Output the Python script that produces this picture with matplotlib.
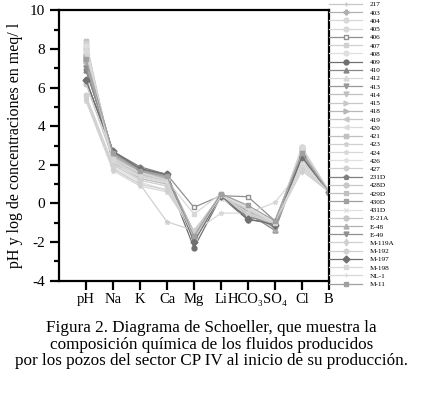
import matplotlib
matplotlib.use('Agg')
import matplotlib.pyplot as plt
from matplotlib.transforms import ScaledTranslation

# Iones del diagrama (eje x)
iones = ['pH', 'Na', 'K', 'Ca', 'Mg', 'Li', 'HCO₃', 'SO₄', 'Cl', 'B']

# Pozos (leyenda)
pozos = ['217', '403', '404', '405', '406', '407', '408', '409', '410', '412',
         '413', '414', '415', '418', '419', '420', '421', '423', '424', '426',
         '427', '231D', '428D', '429D', '430D', '431D', 'E-21A', 'E-48', 'E-49',
         'M-119A', 'M-192', 'M-197', 'M-198', 'NL-1', 'M-11']

# Valores por ion, un valor por pozo (mismo orden que pozos)
ph   = [7.9, 7.6, 8.0, 8.1, 7.5, 8.0, 8.2, 6.4, 6.9, 7.8, 7.0, 7.3, 7.7, 7.4, 7.6, 7.9, 8.4, 5.5,
        5.3, 5.4, 8.3, 6.9, 7.7, 7.6, 7.5, 8.2, 6.2, 7.2, 7.0, 5.4, 5.6, 6.4, 7.9, 7.7, 7.5]
na   = [2.3, 2.5, 2.2, 2.0, 2.6, 2.4, 2.1, 2.6, 2.7, 2.2, 2.5, 2.3, 2.4, 2.3, 2.2, 2.0, 2.1, 1.8,
        1.7, 1.9, 2.2, 2.7, 2.4, 2.5, 2.6, 2.0, 2.3, 2.5, 2.6, 1.8, 2.0, 2.7, 2.3, 2.2, 2.6]
k    = [1.6, 1.7, 1.5, 1.4, 1.8, 1.7, 1.5, 1.7, 1.8, 1.5, 1.6, 1.5, 1.6, 1.6, 1.4, 1.3, 1.3, 1.0,
        0.9, 1.1, 1.5, 1.9, 1.6, 1.7, 1.8, 1.4, 1.5, 1.7, 1.8, 1.0, 1.2, 1.8, 1.6, 1.4, 1.7]
ca   = [1.3, 1.4, 1.2, 1.1, 1.5, 1.4, 1.2, 1.3, 1.4, 1.2, 1.3, 1.2, 1.3, 1.2, 1.1, 1.0, 1.0, -0.95,
        0.6, 0.7, 1.2, 1.5, 1.3, 1.4, 1.5, 1.1, 1.2, 1.3, 1.4, 0.7, 0.9, 1.5, 1.2, 1.1, 1.4]
mg   = [-1.6, -1.5, -1.7, -1.8, -0.2, -1.5, -1.6, -2.3, -1.6, -1.7, -1.5, -1.6, -1.7, -1.5, -1.6,
        -1.8, -1.7, -1.4, -1.5, -1.6, -1.7, -1.8, -1.6, -1.5, -1.7, -1.8, -1.5, -1.6, -1.7, -1.5,
        -1.6, -2.0, -0.55, -1.7, -1.7]
li   = [0.4, 0.4, 0.4, 0.35, 0.4, 0.5, 0.4, 0.35, 0.4, 0.4, 0.4, 0.35, 0.4, 0.4, 0.3, 0.3, 0.35,
        0.4, -0.5, 0.3, 0.4, 0.4, 0.4, 0.4, 0.4, 0.3, 0.4, 0.4, 0.4, 0.35, 0.4, 0.4, 0.5, 0.4, 0.5]
hco3 = [-0.3, -0.4, -0.5, -0.4, 0.35, -0.6, -0.5, -0.85, -0.5, -0.5, -0.4, -0.5, -0.3, -0.4, -0.5,
        -0.6, -0.5, -0.55, -0.5, -0.6, -0.5, -0.7, -0.4, -0.3, -0.5, -0.6, -0.5, -0.4, -0.6, -0.6,
        -0.5, -0.8, -0.2, -0.3, -0.1]
so4  = [-1.0, -1.1, -1.0, -1.1, -0.9, -1.0, -1.1, -1.0, -1.4, -1.1, -1.2, -1.1, -1.0, -1.0, -1.0,
        -1.1, -1.0, -1.0, 0.05, -1.0, -1.0, -1.0, -1.0, -1.1, -1.2, -1.0, -1.1, -1.3, -1.2, -1.0,
        -1.0, -1.1, -1.0, -1.0, -0.9]
cl   = [2.4, 2.5, 2.3, 2.2, 2.6, 2.8, 2.7, 2.5, 2.4, 2.6, 2.5, 2.4, 2.5, 2.3, 2.2, 2.1, 2.6, 2.0,
        1.8, 2.0, 2.7, 2.5, 2.9, 2.7, 2.6, 2.3, 2.8, 2.5, 2.4, 1.7, 1.9, 2.4, 2.9, 2.0, 2.6]
b    = [0.6, 0.6, 0.6, 0.55, 0.6, 0.6, 0.6, 0.6, 0.6, 0.6, 0.6, 0.6, 0.6, 0.6, 0.55, 0.6, 0.6, 0.6,
        0.6, 0.6, 0.6, 0.6, 0.65, 0.6, 0.6, 0.6, 0.6, 0.6, 0.6, 0.6, 0.6, 0.6, 0.65, 0.6, 0.6]

# Estilo de cada pozo
colores = ['#c8c8c8', '#b0b0b0', '#d8d8d8', '#d8d8d8', '#909090', '#d0d0d0', '#e0e0e0', '#707070',
           '#888888', '#d8d8d8', '#999999', '#c0c0c0', '#c8c8c8', '#b8b8b8', '#c8c8c8', '#dcdcdc',
           '#c0c0c0', '#d0d0d0', '#d8d8d8', '#e0e0e0', '#d0d0d0', '#808080', '#c8c8c8', '#c0c0c0',
           '#a0a0a0', '#e0e0e0', '#c8c8c8', '#b0b0b0', '#909090', '#d0d0d0', '#d0d0d0', '#707070',
           '#d8d8d8', '#d8d8d8', '#a0a0a0']
marcadores = ['+', 'P', 'o', 'o', 's', 's', 'o', 'o', '^', '^', 'v', 'v', '>', '>', '<', '<',
              'X', '*', '*', '*', 'h', 'p', 'o', 's', 's', 'x', 'o', '^', 'v', 'd', 'h', 'D',
              's', '|', 's']

plt.rcParams['font.family'] = ['Liberation Serif', 'DejaVu Serif']
plt.rcParams['axes.unicode_minus'] = False

fig = plt.figure(figsize=(4.23, 3.99), dpi=100)
ax = fig.add_axes([0.1395, 0.2965, 0.638, 0.6775])

x = list(range(1, len(iones) + 1))
for i, pozo in enumerate(pozos):
    valores = [ph[i], na[i], k[i], ca[i], mg[i], li[i], hco3[i], so4[i], cl[i], b[i]]
    relleno = 'white' if pozo == '406' else colores[i]
    ax.plot(x, valores, marker=marcadores[i], color=colores[i], markerfacecolor=relleno,
            markeredgecolor=colores[i], markersize=3.5, linewidth=0.9, label=pozo)

# Ejes
ax.set_xlim(0, 10)
ax.set_ylim(-4, 10)
ax.set_xticks(x)
ax.set_xticklabels(iones)
ax.set_yticks(range(-4, 11, 2))
ax.set_yticks(range(-3, 10, 2), minor=True)
ax.tick_params(axis='both', which='major', direction='out', length=6.5, width=1.6, labelsize=11)
ax.tick_params(axis='x', which='major', pad=2.5, labelsize=10.5)
ax.tick_params(axis='y', which='minor', direction='out', length=3.5, width=1.6)
for spine in ax.spines.values():
    spine.set_linewidth(1.6)
ax.set_ylabel('pH y log de concentraciones en meq/ l', fontsize=11.5, labelpad=5)

# HCO3 un poco a la izquierda para no pisar SO4
etiqueta = ax.get_xticklabels()[6]
etiqueta.set_transform(etiqueta.get_transform() + ScaledTranslation(-2 / 72, 0, fig.dpi_scale_trans))

# Leyenda
fig.legend(loc='upper left', bbox_to_anchor=(0.775, 1.0), frameon=False,
           prop={'size': 5.2, 'family': 'Liberation Serif'}, handlelength=4.6,
           handletextpad=1.0, labelspacing=0.3, borderaxespad=0, borderpad=0.2)

# Pie de figura
pie = ['Figura 2. Diagrama de Schoeller, que muestra la',
       'composición química de los fluidos producidos',
       'por los pozos del sector CP IV al inicio de su producción.']
for n, linea in enumerate(pie):
    fig.text(0.5, 1 - (328 + 16.7 * n) / 399, linea, ha='center', va='center', fontsize=12.3)

fig.savefig('out.png', dpi=100)
